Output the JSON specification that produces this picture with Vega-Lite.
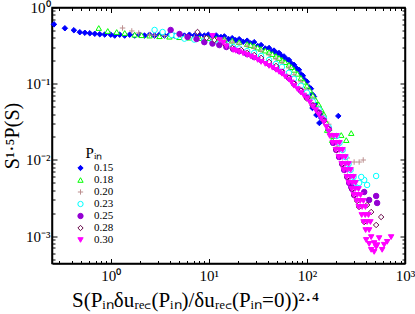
{
  "$schema": "https://vega.github.io/schema/vega-lite/v6.json",
  "width": 353,
  "height": 256,
  "autosize": "none",
  "padding": {"left": 52, "top": 7.5, "right": 9.5, "bottom": 50.5},
  "background": "white",
  "config": {
    "view": {"stroke": "black", "strokeWidth": 1.5},
    "axis": {"domainColor": "black", "domainWidth": 1.5, "tickColor": "black", "tickWidth": 1, "labelFont": "Liberation Serif", "labelFontSize": 15, "labelColor": "black", "titleFont": "Liberation Serif", "titleFontSize": 20, "titleFontWeight": "normal", "titleColor": "black", "grid": false},
    "legend": {"titleFont": "Liberation Serif", "titleFontSize": 15, "titleFontWeight": "normal", "titleColor": "black", "labelFont": "Liberation Serif", "labelFontSize": 11, "labelColor": "black"}
  },
  "data": {"values": [
    {"p":"0.15","x":0.264,"y":0.601},{"p":"0.15","x":0.341,"y":0.534},{"p":"0.15","x":0.421,"y":0.503},{"p":"0.15","x":0.484,"y":0.474},{"p":"0.15","x":0.545,"y":0.466},{"p":"0.15","x":0.612,"y":0.459},{"p":"0.15","x":0.688,"y":0.452},{"p":"0.15","x":0.773,"y":0.446},{"p":"0.15","x":0.869,"y":0.442},{"p":"0.15","x":1.0,"y":0.44},{"p":"0.15","x":1.234,"y":0.44},{"p":"0.15","x":1.559,"y":0.44},{"p":"0.15","x":1.97,"y":0.44},{"p":"0.15","x":2.49,"y":0.44},{"p":"0.15","x":3.14,"y":0.44},{"p":"0.15","x":3.97,"y":0.44},{"p":"0.15","x":5.02,"y":0.44},{"p":"0.15","x":6.34,"y":0.44},{"p":"0.15","x":8.01,"y":0.44},{"p":"0.15","x":9.89,"y":0.44},{"p":"0.15","x":11.9,"y":0.43},{"p":"0.15","x":14.4,"y":0.418},{"p":"0.15","x":17.3,"y":0.396},{"p":"0.15","x":20.4,"y":0.384},{"p":"0.15","x":24.6,"y":0.367},{"p":"0.15","x":29.0,"y":0.351},{"p":"0.15","x":34.1,"y":0.321},{"p":"0.15","x":41.1,"y":0.294},{"p":"0.15","x":46.2,"y":0.272},{"p":"0.15","x":52.0,"y":0.253},{"p":"0.15","x":58.4,"y":0.228},{"p":"0.15","x":65.6,"y":0.205},{"p":"0.15","x":73.8,"y":0.177},{"p":"0.15","x":83.0,"y":0.152},{"p":"0.15","x":91.0,"y":0.127},{"p":"0.15","x":100,"y":0.106},{"p":"0.15","x":110,"y":0.0861},{"p":"0.15","x":118,"y":0.0678},{"p":"0.15","x":126,"y":0.0518},{"p":"0.15","x":139,"y":0.0396},
    {"p":"0.15","x":1.099,"y":0.428},{"p":"0.15","x":1.387,"y":0.428},{"p":"0.15","x":1.753,"y":0.428},{"p":"0.15","x":2.21,"y":0.428},{"p":"0.15","x":2.8,"y":0.428},{"p":"0.15","x":3.53,"y":0.428},{"p":"0.15","x":4.46,"y":0.428},{"p":"0.15","x":5.64,"y":0.428},{"p":"0.15","x":7.12,"y":0.428},{"p":"0.15","x":9.0,"y":0.428},{"p":"0.15","x":10.9,"y":0.42},{"p":"0.15","x":13.3,"y":0.41},{"p":"0.15","x":15.9,"y":0.385},{"p":"0.15","x":18.8,"y":0.372},{"p":"0.15","x":22.4,"y":0.355},{"p":"0.15","x":26.7,"y":0.338},{"p":"0.15","x":31.5,"y":0.312},{"p":"0.15","x":37.6,"y":0.29},{"p":"0.15","x":44,"y":0.265},{"p":"0.15","x":49,"y":0.25},{"p":"0.15","x":55,"y":0.232},{"p":"0.15","x":62,"y":0.208},{"p":"0.15","x":69,"y":0.185},{"p":"0.15","x":78,"y":0.16},{"p":"0.15","x":87,"y":0.133},{"p":"0.15","x":95,"y":0.112},{"p":"0.15","x":105,"y":0.09},{"p":"0.15","x":114,"y":0.072},{"p":"0.15","x":122,"y":0.056},{"p":"0.15","x":132,"y":0.043},
    {"p":"0.15","x":114,"y":0.048},{"p":"0.15","x":119,"y":0.0611},{"p":"0.15","x":125,"y":0.0388},{"p":"0.15","x":128,"y":0.0452},{"p":"0.15","x":134,"y":0.0305},{"p":"0.15","x":140,"y":0.0355},{"p":"0.15","x":209,"y":0.0377},
    {"p":"0.18","x":0.755,"y":0.538},{"p":"0.18","x":0.933,"y":0.492},{"p":"0.18","x":1.15,"y":0.477},{"p":"0.18","x":1.39,"y":0.463},{"p":"0.18","x":1.753,"y":0.44},{"p":"0.18","x":2.065,"y":0.433},{"p":"0.18","x":2.49,"y":0.428},{"p":"0.18","x":3.14,"y":0.42},{"p":"0.18","x":3.97,"y":0.414},{"p":"0.18","x":5.02,"y":0.408},{"p":"0.18","x":6.34,"y":0.402},{"p":"0.18","x":8.01,"y":0.396},{"p":"0.18","x":9.89,"y":0.396},{"p":"0.18","x":11.9,"y":0.39},{"p":"0.18","x":14.4,"y":0.384},{"p":"0.18","x":17.3,"y":0.367},{"p":"0.18","x":20.4,"y":0.351},{"p":"0.18","x":24.6,"y":0.331},{"p":"0.18","x":29.0,"y":0.312},{"p":"0.18","x":34.1,"y":0.285},{"p":"0.18","x":41.1,"y":0.26},{"p":"0.18","x":48.4,"y":0.231},{"p":"0.18","x":55.7,"y":0.205},{"p":"0.18","x":65.6,"y":0.177},{"p":"0.18","x":73.8,"y":0.152},{"p":"0.18","x":86.9,"y":0.119},{"p":"0.18","x":100,"y":0.094},{"p":"0.18","x":115,"y":0.07},{"p":"0.18","x":132,"y":0.0533},{"p":"0.18","x":149,"y":0.0396},
    {"p":"0.18","x":26.7,"y":0.322},{"p":"0.18","x":31.5,"y":0.298},{"p":"0.18","x":37.6,"y":0.272},{"p":"0.18","x":44.5,"y":0.245},{"p":"0.18","x":52,"y":0.218},{"p":"0.18","x":60,"y":0.192},{"p":"0.18","x":69.5,"y":0.165},{"p":"0.18","x":80,"y":0.135},{"p":"0.18","x":93,"y":0.106},{"p":"0.18","x":107,"y":0.082},{"p":"0.18","x":123,"y":0.061},{"p":"0.18","x":140,"y":0.046},
    {"p":"0.18","x":158,"y":0.031},{"p":"0.18","x":161,"y":0.0247},{"p":"0.18","x":169,"y":0.0262},{"p":"0.18","x":181,"y":0.0182},{"p":"0.18","x":186,"y":0.0206},{"p":"0.18","x":224,"y":0.0212},{"p":"0.18","x":252,"y":0.0182},{"p":"0.18","x":283,"y":0.0225},
    {"p":"0.20","x":1.32,"y":0.538},{"p":"0.20","x":1.64,"y":0.492},{"p":"0.20","x":1.93,"y":0.463},{"p":"0.20","x":2.49,"y":0.436},{"p":"0.20","x":2.8,"y":0.433},{"p":"0.20","x":3.53,"y":0.427},{"p":"0.20","x":4.46,"y":0.42},{"p":"0.20","x":5.64,"y":0.414},{"p":"0.20","x":7.12,"y":0.408},{"p":"0.20","x":9.0,"y":0.402},{"p":"0.20","x":11.1,"y":0.39},{"p":"0.20","x":12.8,"y":0.38},{"p":"0.20","x":14.4,"y":0.373},{"p":"0.20","x":17.3,"y":0.351},{"p":"0.20","x":20.4,"y":0.331},{"p":"0.20","x":24.6,"y":0.312},{"p":"0.20","x":29.0,"y":0.294},{"p":"0.20","x":34.1,"y":0.268},{"p":"0.20","x":41.1,"y":0.238},{"p":"0.20","x":48.4,"y":0.211},{"p":"0.20","x":55.7,"y":0.187},{"p":"0.20","x":65.6,"y":0.161},{"p":"0.20","x":73.8,"y":0.131},{"p":"0.20","x":86.9,"y":0.106},{"p":"0.20","x":100,"y":0.0836},{"p":"0.20","x":115,"y":0.0638},{"p":"0.20","x":132,"y":0.0488},{"p":"0.20","x":149,"y":0.0373},{"p":"0.20","x":167,"y":0.0294},{"p":"0.20","x":180,"y":0.021},
    {"p":"0.20","x":185,"y":0.0167},{"p":"0.20","x":199,"y":0.0135},{"p":"0.20","x":213,"y":0.0109},{"p":"0.20","x":204,"y":0.0148},{"p":"0.20","x":258,"y":0.0106},{"p":"0.20","x":303,"y":0.00938},{"p":"0.20","x":341,"y":0.00938},{"p":"0.20","x":375,"y":0.00997},
    {"p":"0.23","x":2.8,"y":0.507},{"p":"0.23","x":3.38,"y":0.477},{"p":"0.23","x":4.17,"y":0.436},{"p":"0.23","x":4.69,"y":0.423},{"p":"0.23","x":5.64,"y":0.39},{"p":"0.23","x":7.12,"y":0.379},{"p":"0.23","x":9.0,"y":0.367},{"p":"0.23","x":10.9,"y":0.351},{"p":"0.23","x":12.8,"y":0.336},{"p":"0.23","x":15.1,"y":0.321},{"p":"0.23","x":17.7,"y":0.303},{"p":"0.23","x":20.4,"y":0.29},{"p":"0.23","x":24.6,"y":0.268},{"p":"0.23","x":29.0,"y":0.253},{"p":"0.23","x":34.1,"y":0.231},{"p":"0.23","x":41.1,"y":0.205},{"p":"0.23","x":48.4,"y":0.182},{"p":"0.23","x":55.7,"y":0.166},{"p":"0.23","x":65.6,"y":0.139},{"p":"0.23","x":73.8,"y":0.116},{"p":"0.23","x":86.9,"y":0.094},{"p":"0.23","x":100,"y":0.0764},{"p":"0.23","x":115,"y":0.0584},{"p":"0.23","x":132,"y":0.0459},{"p":"0.23","x":149,"y":0.0351},{"p":"0.23","x":167,"y":0.0268},
    {"p":"0.23","x":201,"y":0.0206},{"p":"0.23","x":215,"y":0.0167},{"p":"0.23","x":231,"y":0.0135},{"p":"0.23","x":247,"y":0.0109},{"p":"0.23","x":266,"y":0.00883},{"p":"0.23","x":279,"y":0.00737},{"p":"0.23","x":299,"y":0.00597},{"p":"0.23","x":313,"y":0.00498},{"p":"0.23","x":341,"y":0.00498},{"p":"0.23","x":384,"y":0.00545},{"p":"0.23","x":411,"y":0.00469},{"p":"0.23","x":508,"y":0.00615},{"p":"0.23","x":358,"y":0.00597},
    {"p":"0.25","x":4.08,"y":0.507},{"p":"0.25","x":5.03,"y":0.449},{"p":"0.25","x":6.07,"y":0.41},{"p":"0.25","x":7.5,"y":0.386},{"p":"0.25","x":9.0,"y":0.351},{"p":"0.25","x":10.9,"y":0.336},{"p":"0.25","x":12.8,"y":0.321},{"p":"0.25","x":15.1,"y":0.303},{"p":"0.25","x":17.7,"y":0.285},{"p":"0.25","x":20.4,"y":0.268},{"p":"0.25","x":24.6,"y":0.245},{"p":"0.25","x":29.0,"y":0.224},{"p":"0.25","x":34.1,"y":0.205},{"p":"0.25","x":41.1,"y":0.182},{"p":"0.25","x":48.4,"y":0.161},{"p":"0.25","x":55.7,"y":0.143},{"p":"0.25","x":65.6,"y":0.119},{"p":"0.25","x":73.8,"y":0.1},{"p":"0.25","x":86.9,"y":0.0811},{"p":"0.25","x":100,"y":0.0658},{"p":"0.25","x":115,"y":0.0518},{"p":"0.25","x":132,"y":0.042},{"p":"0.25","x":149,"y":0.0331},{"p":"0.25","x":167,"y":0.0253},
    {"p":"0.25","x":185,"y":0.0167},{"p":"0.25","x":199,"y":0.0135},{"p":"0.25","x":213,"y":0.0109},{"p":"0.25","x":229,"y":0.00883},{"p":"0.25","x":240,"y":0.00737},{"p":"0.25","x":258,"y":0.00597},{"p":"0.25","x":270,"y":0.00498},{"p":"0.25","x":289,"y":0.00415},{"p":"0.25","x":303,"y":0.00346},{"p":"0.25","x":283,"y":0.0044},{"p":"0.25","x":384,"y":0.00379},{"p":"0.25","x":508,"y":0.00336},{"p":"0.25","x":520,"y":0.00272},{"p":"0.25","x":431,"y":0.00298},
    {"p":"0.28","x":7.67,"y":0.477},{"p":"0.28","x":9.48,"y":0.398},{"p":"0.28","x":11.4,"y":0.374},{"p":"0.28","x":14.5,"y":0.332},{"p":"0.28","x":17.4,"y":0.294},{"p":"0.28","x":21.4,"y":0.277},{"p":"0.28","x":24.6,"y":0.253},{"p":"0.28","x":29.0,"y":0.238},{"p":"0.28","x":34.1,"y":0.218},{"p":"0.28","x":41.1,"y":0.193},{"p":"0.28","x":48.4,"y":0.171},{"p":"0.28","x":55.7,"y":0.143},{"p":"0.28","x":65.6,"y":0.119},{"p":"0.28","x":73.8,"y":0.1},{"p":"0.28","x":86.9,"y":0.0811},{"p":"0.28","x":100,"y":0.0638},{"p":"0.28","x":115,"y":0.0518},{"p":"0.28","x":132,"y":0.0408},{"p":"0.28","x":149,"y":0.0321},{"p":"0.28","x":167,"y":0.0253},
    {"p":"0.28","x":199,"y":0.0135},{"p":"0.28","x":229,"y":0.00883},{"p":"0.28","x":258,"y":0.00597},{"p":"0.28","x":289,"y":0.00415},{"p":"0.28","x":303,"y":0.00346},{"p":"0.28","x":325,"y":0.00289},{"p":"0.28","x":340,"y":0.00241},{"p":"0.28","x":384,"y":0.00153},{"p":"0.28","x":508,"y":0.0014},{"p":"0.28","x":571,"y":0.00178},{"p":"0.28","x":452,"y":0.00207},{"p":"0.28","x":411,"y":0.00256},
    {"p":"0.30","x":10.9,"y":0.423},{"p":"0.30","x":12.9,"y":0.374},{"p":"0.30","x":14.0,"y":0.345},{"p":"0.30","x":15.1,"y":0.31},{"p":"0.30","x":17.7,"y":0.277},{"p":"0.30","x":20.4,"y":0.26},{"p":"0.30","x":24.6,"y":0.238},{"p":"0.30","x":29.0,"y":0.218},{"p":"0.30","x":34.1,"y":0.193},{"p":"0.30","x":41.1,"y":0.171},{"p":"0.30","x":48.4,"y":0.152},{"p":"0.30","x":55.7,"y":0.135},{"p":"0.30","x":65.6,"y":0.113},{"p":"0.30","x":73.8,"y":0.094},{"p":"0.30","x":86.9,"y":0.0764},{"p":"0.30","x":100,"y":0.0638},{"p":"0.30","x":115,"y":0.0502},{"p":"0.30","x":132,"y":0.0396},{"p":"0.30","x":149,"y":0.0312},{"p":"0.30","x":167,"y":0.0238},
    {"p":"0.30","x":18.8,"y":0.27},{"p":"0.30","x":22.4,"y":0.25},{"p":"0.30","x":26.7,"y":0.228},{"p":"0.30","x":31.5,"y":0.205},{"p":"0.30","x":37.6,"y":0.182},{"p":"0.30","x":44.5,"y":0.162},{"p":"0.30","x":52,"y":0.143},{"p":"0.30","x":60,"y":0.124},{"p":"0.30","x":69.5,"y":0.104},{"p":"0.30","x":80,"y":0.085},{"p":"0.30","x":93,"y":0.07},{"p":"0.30","x":107,"y":0.057},{"p":"0.30","x":123,"y":0.045},{"p":"0.30","x":140,"y":0.035},{"p":"0.30","x":158,"y":0.027},
    {"p":"0.30","x":186,"y":0.0206},{"p":"0.30","x":199,"y":0.0167},{"p":"0.30","x":214,"y":0.0135},{"p":"0.30","x":229,"y":0.0109},{"p":"0.30","x":246,"y":0.00883},{"p":"0.30","x":258,"y":0.00737},{"p":"0.30","x":277,"y":0.00597},{"p":"0.30","x":290,"y":0.00498},{"p":"0.30","x":311,"y":0.00415},{"p":"0.30","x":326,"y":0.00346},{"p":"0.30","x":349,"y":0.00289},{"p":"0.30","x":366,"y":0.00241},{"p":"0.30","x":393,"y":0.00189},{"p":"0.30","x":411,"y":0.00153},{"p":"0.30","x":431,"y":0.0012},{"p":"0.30","x":452,"y":0.00097},{"p":"0.30","x":485,"y":0.00081},{"p":"0.30","x":508,"y":0.00072},
    {"p":"0.30","x":171,"y":0.0206},{"p":"0.30","x":183,"y":0.0167},{"p":"0.30","x":197,"y":0.0135},{"p":"0.30","x":211,"y":0.0109},{"p":"0.30","x":226,"y":0.00883},{"p":"0.30","x":237,"y":0.00737},{"p":"0.30","x":255,"y":0.00597},{"p":"0.30","x":267,"y":0.00498},{"p":"0.30","x":286,"y":0.00415},{"p":"0.30","x":300,"y":0.00346},{"p":"0.30","x":321,"y":0.00289},{"p":"0.30","x":337,"y":0.00241},{"p":"0.30","x":362,"y":0.00189},{"p":"0.30","x":378,"y":0.00153},{"p":"0.30","x":397,"y":0.0012},
    {"p":"0.30","x":201,"y":0.0206},{"p":"0.30","x":215,"y":0.0167},{"p":"0.30","x":231,"y":0.0135},{"p":"0.30","x":247,"y":0.0109},{"p":"0.30","x":266,"y":0.00883},{"p":"0.30","x":279,"y":0.00737},{"p":"0.30","x":299,"y":0.00597},{"p":"0.30","x":313,"y":0.00498},{"p":"0.30","x":336,"y":0.00415},{"p":"0.30","x":352,"y":0.00346},{"p":"0.30","x":377,"y":0.00289},{"p":"0.30","x":395,"y":0.00241},{"p":"0.30","x":424,"y":0.00189},{"p":"0.30","x":444,"y":0.00153},
    {"p":"0.30","x":402,"y":0.00089},{"p":"0.30","x":452,"y":0.00066},{"p":"0.30","x":520,"y":0.00076},{"p":"0.30","x":585,"y":0.00066},{"p":"0.30","x":658,"y":0.00084},{"p":"0.30","x":722,"y":0.00097},{"p":"0.30","x":545,"y":0.00094},{"p":"0.30","x":485,"y":0.00062},{"p":"0.30","x":431,"y":0.00079},{"p":"0.30","x":613,"y":0.00077}
  ]},
  "encoding": {
    "x": {"field": "x", "type": "quantitative", "scale": {"type": "log", "domain": [0.252, 1000], "nice": false}},
    "y": {"field": "y", "type": "quantitative", "scale": {"type": "log", "domain": [0.000437, 1], "nice": false}},
    "shape": {"field": "p", "type": "nominal", "title": "Pᵢₙ", "scale": {"domain": ["0.15","0.18","0.20","0.23","0.25","0.28","0.30"], "range": ["diamond","triangle-up","M-1,0H1M0,-1V1","circle","circle","diamond","triangle-down"]}, "legend": {"orient": "none", "legendX": 23, "legendY": 138, "titleAnchor": "middle", "symbolSize": 28, "symbolStrokeWidth": 1, "rowPadding": 0, "labelOffset": 8, "titlePadding": 2, "padding": 0}},
    "fill": {"field": "p", "type": "nominal", "title": "Pᵢₙ", "scale": {"domain": ["0.15","0.18","0.20","0.23","0.25","0.28","0.30"], "range": ["#0000ff","white","transparent","white","#9400d3","white","#ff00ff"]}, "legend": {"orient": "none", "legendX": 23, "legendY": 138, "titleAnchor": "middle", "symbolSize": 28, "symbolStrokeWidth": 1, "rowPadding": 0, "labelOffset": 8, "titlePadding": 2, "padding": 0}},
    "stroke": {"field": "p", "type": "nominal", "title": "Pᵢₙ", "scale": {"domain": ["0.15","0.18","0.20","0.23","0.25","0.28","0.30"], "range": ["#0000ff","#00ff00","#bc8f8f","#00ffff","#9400d3","#670748","#ff00ff"]}, "legend": {"orient": "none", "legendX": 23, "legendY": 138, "titleAnchor": "middle", "symbolSize": 28, "symbolStrokeWidth": 1, "rowPadding": 0, "labelOffset": 8, "titlePadding": 2, "padding": 0}}
  },
  "layer": [
    {
      "transform": [{"filter": {"field": "p", "oneOf": ["0.15","0.18","0.20","0.23"]}}],
      "mark": {"type": "point", "opacity": 1, "strokeWidth": 1, "size": 30},
      "encoding": {
        "x": {"field": "x", "type": "quantitative", "axis": {"orient": "bottom", "values": [0.3,0.4,0.5,0.6,0.7,0.8,0.9,1,2,3,4,5,6,7,8,9,10,20,30,40,50,60,70,80,90,100,200,300,400,500,600,700,800,900,1000], "labelExpr": "datum.value==1?'10⁰':datum.value==10?'10¹':datum.value==100?'10²':datum.value==1000?'10³':''", "labelOverlap": false, "labelFlush": false, "tickSize": {"condition": {"test": "datum.value==1||datum.value==10||datum.value==100||datum.value==1000", "value": -5}, "value": -3}, "labelPadding": 10, "title": "S(Pᵢₙδuᵣₑ꜀(Pᵢₙ)/δuᵣₑ꜀(Pᵢₙ=0))²·⁴", "titleFontSize": 21, "titleX": 143, "titlePadding": 4}},
        "y": {"field": "y", "type": "quantitative", "axis": {"orient": "left", "values": [0.0005,0.0006,0.0007,0.0008,0.0009,0.001,0.002,0.003,0.004,0.005,0.006,0.007,0.008,0.009,0.01,0.02,0.03,0.04,0.05,0.06,0.07,0.08,0.09,0.1,0.2,0.3,0.4,0.5,0.6,0.7,0.8,0.9,1], "labelExpr": "datum.value==1?'10⁰':datum.value==0.1?'10⁻¹':datum.value==0.01?'10⁻²':datum.value==0.001?'10⁻³':''", "labelOverlap": false, "labelFlush": false, "tickSize": {"condition": {"test": "datum.value==1||datum.value==0.1||datum.value==0.01||datum.value==0.001", "value": -5}, "value": -3}, "labelPadding": 7, "title": "S¹·⁵P(S)", "titlePadding": 3}}
      }
    },
    {
      "transform": [{"filter": {"field": "p", "oneOf": ["0.25","0.28","0.30"]}}],
      "mark": {"type": "point", "opacity": 1, "strokeWidth": 1, "size": 30},
      "encoding": {
        "x": {"field": "x", "type": "quantitative", "axis": {"orient": "top", "values": [0.3,0.4,0.5,0.6,0.7,0.8,0.9,1,2,3,4,5,6,7,8,9,10,20,30,40,50,60,70,80,90,100,200,300,400,500,600,700,800,900,1000], "labels": false, "title": null, "tickSize": {"condition": {"test": "datum.value==1||datum.value==10||datum.value==100||datum.value==1000", "value": -5}, "value": -3}}},
        "y": {"field": "y", "type": "quantitative", "axis": {"orient": "right", "values": [0.0005,0.0006,0.0007,0.0008,0.0009,0.001,0.002,0.003,0.004,0.005,0.006,0.007,0.008,0.009,0.01,0.02,0.03,0.04,0.05,0.06,0.07,0.08,0.09,0.1,0.2,0.3,0.4,0.5,0.6,0.7,0.8,0.9,1], "labels": false, "title": null, "tickSize": {"condition": {"test": "datum.value==1||datum.value==0.1||datum.value==0.01||datum.value==0.001", "value": -5}, "value": -3}}}
      }
    }
  ],
  "resolve": {"axis": {"x": "independent", "y": "independent"}}
}
